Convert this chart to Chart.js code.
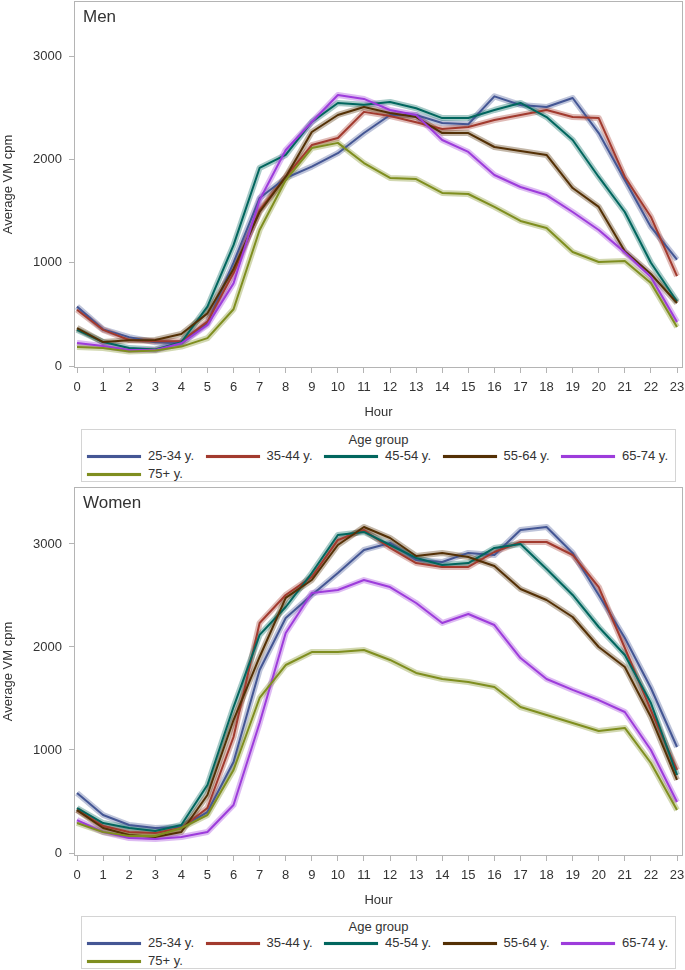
<!DOCTYPE html>
<html>
<head>
<meta charset="utf-8">
<script src="https://cdn.jsdelivr.net/npm/chart.js@4.4.1/dist/chart.umd.min.js"></script>
<style>
html,body{margin:0;padding:0;background:#fff;}
#wrap{position:relative;width:685px;height:970px;overflow:hidden;font-family:"Liberation Sans",Arial,sans-serif;color:#333;}
.panel{position:absolute;left:0;width:685px;}
.panel canvas{display:block;}
.ptitle{position:absolute;left:83px;font-size:17px;line-height:20px;color:#333;}
.legend{position:absolute;left:81px;width:595px;height:53px;box-sizing:border-box;border:1px solid #d4d4d4;padding-top:2px;font-size:13px;color:#333;}
.legend .lt{text-align:center;line-height:15px;}
.legend .row{height:18px;line-height:18px;padding-left:5px;white-space:nowrap;display:flex;}
.legend .item{display:flex;align-items:center;width:118.5px;flex:none;}
.legend .sw{width:54px;height:3px;margin-right:7px;flex:none;}
</style>
</head>
<body>
<div id="wrap">
  <div class="panel" style="top:0px;">
    <canvas id="cMen" width="685" height="425"></canvas>
    <div class="ptitle" style="top:7px;">Men</div>
  </div>
  <div class="legend" id="legMen" style="top:429px;"></div>
  <div class="panel" style="top:486px;">
    <canvas id="cWomen" width="685" height="427"></canvas>
    <div class="ptitle" style="top:7px;">Women</div>
  </div>
  <div class="legend" id="legWomen" style="top:916px;"></div>
</div>
<script>
// ---- data ----
const hours = [0,1,2,3,4,5,6,7,8,9,10,11,12,13,14,15,16,17,18,19,20,21,22,23];
const yTicks = [0,1000,2000,3000];
const groups = ['25-34 y.','35-44 y.','45-54 y.','55-64 y.','65-74 y.','75+ y.'];
const legendTitle = 'Age group';

const men_25_34 = [575,355,280,230,220,415,1000,1626,1820,1930,2060,2255,2430,2430,2352,2340,2610,2527,2507,2594,2255,1800,1346,1030];
const men_35_44 = [545,350,252,240,240,430,900,1510,1830,2139,2207,2460,2420,2360,2294,2314,2381,2430,2478,2410,2400,1830,1443,871];
const men_45_54 = [350,232,174,160,230,575,1170,1917,2043,2362,2546,2530,2556,2495,2400,2400,2478,2546,2410,2188,1830,1491,1000,625];
const men_55_64 = [368,232,250,252,310,510,940,1491,1830,2265,2430,2507,2449,2410,2255,2255,2120,2081,2043,1723,1540,1110,891,610];
const men_65_74 = [222,194,155,155,220,397,800,1607,2091,2362,2623,2585,2478,2430,2188,2072,1849,1733,1655,1491,1317,1100,862,426];
const men_75p   = [184,174,140,150,188,270,550,1317,1800,2110,2160,1965,1820,1810,1675,1665,1540,1404,1336,1104,1007,1017,803,378];

const women_25_34 = [582,369,272,243,252,398,883,1777,2282,2505,2718,2942,3010,2845,2825,2913,2893,3136,3165,2913,2505,2087,1602,1029];
const women_35_44 = [420,262,204,194,243,437,1126,2233,2505,2680,3039,3136,2961,2815,2777,2777,2922,3019,3019,2893,2582,1990,1388,806];
const women_45_54 = [437,291,243,214,272,660,1417,2117,2388,2718,3087,3117,2990,2864,2796,2815,2961,3000,2757,2505,2194,1922,1456,757];
const women_55_64 = [417,243,175,155,204,563,1291,1903,2476,2650,2990,3165,3058,2883,2913,2874,2786,2563,2456,2291,2000,1806,1320,709];
const women_65_74 = [320,204,146,136,155,204,466,1262,2136,2524,2553,2650,2582,2427,2233,2320,2213,1893,1689,1583,1485,1369,1000,495];
const women_75p   = [291,204,165,165,243,369,806,1505,1825,1951,1951,1971,1874,1748,1689,1660,1612,1417,1340,1262,1184,1214,874,417];

// ---- styles ----
const colors = ['#445694','#A23A2E','#01665E','#543005','#9D3CDB','#7F8E1F'];
const FONT = '"Liberation Sans", Arial, sans-serif';
const TEXT = '#333333';
const FRAME = '#b4b4b4';

function rgba(hex, a){
  const n = parseInt(hex.slice(1),16);
  return 'rgba('+((n>>16)&255)+','+((n>>8)&255)+','+(n&255)+','+a+')';
}

const framePlugin = {
  id:'frame',
  beforeDatasetsDraw(chart){
    const {ctx, chartArea:a} = chart;
    ctx.save();
    ctx.strokeStyle = FRAME;
    ctx.lineWidth = 1;
    ctx.strokeRect(a.left+0.5, a.top+0.5, a.right-a.left-1, a.bottom-a.top-1);
    ctx.restore();
  }
};

function zeroPad(s){ s.paddingTop = 0; s.paddingBottom = 0; s.paddingLeft = 0; s.paddingRight = 0; }

function makeChart(id, seriesList, yMin, yMax){
  const datasets = [];
  seriesList.forEach((vals,i)=>{
    const pts = hours.map((h,k)=>({x:h, y:vals[k]}));
    datasets.push({label:groups[i]+' band', data:pts, borderColor:rgba(colors[i],0.35),
      borderWidth:6, pointRadius:0, tension:0, fill:false, order:100-i, borderJoinStyle:'round'});
    datasets.push({label:groups[i], data:pts, borderColor:colors[i],
      borderWidth:2, pointRadius:0, tension:0, fill:false, order:50-i, borderJoinStyle:'round'});
  });
  return new Chart(document.getElementById(id), {
    type:'line',
    data:{datasets},
    plugins:[framePlugin],
    options:{
      responsive:false, animation:false, devicePixelRatio:1,
      layout:{padding:{top:1,right:2,left:0,bottom:0}},
      plugins:{legend:{display:false}, tooltip:{enabled:false}, title:{display:false}},
      scales:{
        x:{
          type:'linear', min:-0.115, max:23.23,
          afterBuildTicks:s=>{ s.ticks = hours.map(v=>({value:v})); },
          afterFit:s=>{ s.height = 57; zeroPad(s); },
          ticks:{autoSkip:false, maxRotation:0, minRotation:0, padding:7, color:TEXT,
            font:{family:FONT, size:13}, callback:v=>String(v)},
          grid:{drawOnChartArea:false, drawTicks:true, tickLength:5, color:FRAME, tickColor:FRAME},
          border:{display:false},
          title:{display:true, text:'Hour', color:TEXT, font:{family:FONT, size:13}, padding:{top:0,bottom:5}}
        },
        y:{
          type:'linear', min:yMin, max:yMax,
          afterBuildTicks:s=>{ s.ticks = yTicks.map(v=>({value:v})); },
          afterFit:s=>{ s.width = 74; zeroPad(s); },
          ticks:{padding:7, color:TEXT, font:{family:FONT, size:13}, callback:v=>String(v)},
          grid:{drawOnChartArea:false, drawTicks:true, tickLength:5, color:FRAME, tickColor:FRAME},
          border:{display:false},
          title:{display:true, text:'Average VM cpm', color:TEXT, font:{family:FONT, size:13}, padding:{top:1,bottom:0}}
        }
      }
    }
  });
}

function buildLegend(id){
  const el = document.getElementById(id);
  const t = document.createElement('div'); t.className='lt'; t.textContent = legendTitle; el.appendChild(t);
  const rows = [groups.slice(0,5), groups.slice(5)];
  let idx = 0;
  rows.forEach(r=>{
    const row = document.createElement('div'); row.className='row';
    r.forEach(g=>{
      const it = document.createElement('div'); it.className='item';
      const sw = document.createElement('span'); sw.className='sw';
      sw.style.background = colors[idx];
      sw.style.boxShadow = '0 0 1px '+rgba(colors[idx],0.6);
      const tx = document.createElement('span'); tx.textContent = g;
      it.appendChild(sw); it.appendChild(tx); row.appendChild(it);
      idx++;
    });
    el.appendChild(row);
  });
}

makeChart('cMen', [men_25_34,men_35_44,men_45_54,men_55_64,men_65_74,men_75p], -19, 3533);
makeChart('cWomen', [women_25_34,women_35_44,women_45_54,women_55_64,women_65_74,women_75p], -29, 3553);
buildLegend('legMen');
buildLegend('legWomen');
</script>
</body>
</html>
